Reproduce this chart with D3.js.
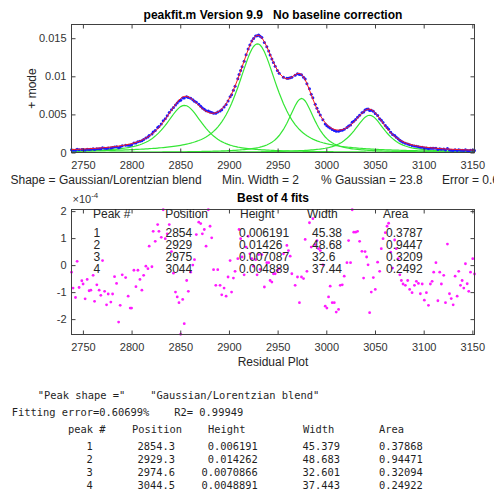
<!DOCTYPE html>
<html>
<head>
<meta charset="utf-8">
<script src="https://cdn.jsdelivr.net/npm/d3@7"></script>
<style>
  body { margin: 0; background: #fff; }
  svg { display: block; }
  text.pre { white-space: pre; }
</style>
</head>
<body>
<div id="chart"></div>
<script>
// fitted peak table (peakfit output)
const peakNum = [1, 2, 3, 4];
const peakPos = [2854.3, 2929.3, 2974.6, 3044.46];
const peakHeight = [0.006191, 0.014262, 0.0070866, 0.0048891];
const peakWidth = [45.379, 48.683, 32.601, 37.443];
const peakArea = [0.37868, 0.94471, 0.32094, 0.24922];
const pctGaussian = 23.8;
const minWidth = 2;
const fitError = 0.60699;
const r2 = 0.99949;

// residuals: [x, residual * 1e4]
const residuals = [
  [2738.3, -0.26], [2739.9, -0.85], [2742.4, -1.20], [2744.1, 0.14], [2746.1, -0.83], [2748.9, -0.58],
  [2750.2, -0.70], [2752.3, -1.25], [2754.4, -0.53], [2756.4, -0.95], [2758.2, -0.93], [2760.5, -0.38],
  [2762.0, -1.34], [2764.3, -0.73], [2766.7, -0.93], [2768.4, -1.12], [2770.2, 0.17], [2772.3, -0.97],
  [2774.3, -1.47], [2776.0, -1.07], [2778.7, -1.37], [2780.5, -1.07], [2782.5, -0.43], [2784.6, -0.68],
  [2786.7, -2.11], [2788.3, -1.49], [2790.4, -0.36], [2793.9, -0.46], [2796.5, -1.15], [2798.6, -1.59],
  [2800.0, -1.59], [2802.4, -0.19], [2804.5, -0.80], [2806.5, -0.19], [2808.6, -0.53], [2810.6, -0.93],
  [2812.4, -0.38], [2814.7, -0.04], [2816.8, -0.13], [2818.1, 0.70], [2820.9, -0.06], [2822.2, 1.25],
  [2824.3, 0.88], [2826.8, 1.50], [2828.1, 1.25], [2830.5, 1.03], [2832.5, 2.05], [2834.6, 0.98],
  [2836.6, 1.16], [2838.7, 1.50], [2841.0, 0.50], [2843.0, -0.30], [2845.1, -1.00], [2846.9, -1.18],
  [2848.7, -1.39], [2850.4, -2.56], [2852.5, -1.27], [2854.1, -2.17], [2856.6, -0.57], [2858.3, -0.97],
  [2860.7, -0.26], [2862.9, 0.00], [2864.6, 0.20], [2866.5, 1.13], [2869.0, 1.59], [2871.0, 1.54],
  [2872.7, 1.16], [2874.7, 1.32], [2876.5, 0.70], [2878.8, 2.05], [2880.6, 1.44], [2882.3, 1.01],
  [2884.2, -0.17], [2886.5, -0.75], [2888.5, -0.17], [2890.9, -0.75], [2892.6, -1.10], [2895.0, -0.85],
  [2897.1, -1.15], [2899.1, -0.44], [2901.2, 0.17], [2902.7, -1.00], [2904.6, -0.48], [2906.3, -0.23],
  [2909.1, 0.24], [2910.4, 1.32], [2912.0, 0.98], [2913.5, 0.30], [2915.6, -0.36], [2917.6, 0.67],
  [2919.7, 1.07], [2921.5, 0.42], [2923.5, 0.24], [2925.3, -0.04], [2927.4, 0.20], [2928.9, -0.36],
  [2930.5, 0.39], [2932.0, -0.16], [2933.8, 0.39], [2936.4, -0.81], [2938.9, 0.09], [2940.8, 0.09],
  [2942.3, -0.57], [2944.1, -0.63], [2945.7, -0.32], [2947.5, -0.32], [2949.8, -0.20], [2951.6, -0.13],
  [2956.0, 0.42], [2959.5, 0.73], [2961.1, 0.54], [2962.9, 0.33], [2964.6, -0.32], [2968.0, -0.75],
  [2970.4, -0.44], [2972.4, -1.39], [2974.5, -0.44], [2976.6, -0.50], [2978.3, 0.95], [2980.1, -0.23],
  [2982.7, 1.57], [2984.5, 0.67], [2986.2, 1.72], [2988.6, 0.76], [2990.4, 0.91], [2992.0, 0.61],
  [2993.8, 0.54], [2996.5, 0.01], [2998.9, -1.52], [3000.6, -1.59], [3002.3, -1.18], [3004.0, -0.78],
  [3006.1, -1.39], [3008.2, -1.39], [3010.2, -1.74], [3012.6, -1.64], [3014.3, -0.75], [3016.4, -0.73],
  [3018.4, -0.41], [3021.2, 0.09], [3022.9, 0.91], [3024.9, 0.09], [3026.6, 2.05], [3028.2, 1.22],
  [3030.1, 1.22], [3032.1, 1.25], [3034.2, 0.88], [3036.6, 0.51], [3038.3, -0.48], [3039.8, 0.50],
  [3041.4, 0.30], [3042.9, 0.01], [3044.5, -1.76], [3046.2, -1.00], [3048.3, -0.46], [3050.3, -0.90],
  [3052.7, 0.11], [3054.8, -0.23], [3056.5, 0.61], [3058.3, 0.98], [3060.6, 1.20], [3062.4, 1.44],
  [3064.0, 1.55], [3066.1, 0.48], [3068.1, -0.11], [3070.2, 0.93], [3071.9, 0.61], [3073.8, 0.24],
  [3075.5, -0.36], [3077.1, -0.57], [3078.8, -0.70], [3081.2, -0.75], [3083.6, -0.57], [3085.6, -0.90],
  [3088.1, -1.02], [3090.5, -0.75], [3092.5, -0.60], [3094.6, -0.68], [3096.6, -1.06], [3098.5, -0.70],
  [3100.7, -1.30], [3102.8, -1.02], [3104.9, -1.49], [3106.9, -0.70], [3108.7, -0.60], [3110.3, -0.26],
  [3112.6, 0.09], [3114.6, -1.32], [3116.5, -0.26], [3118.2, -0.70], [3120.6, -0.38], [3122.4, -1.39],
  [3124.4, 0.78], [3126.5, -1.06], [3128.3, -1.24], [3130.3, -1.47], [3132.3, -0.41], [3134.4, -1.15],
  [3136.0, -0.23], [3137.8, -0.75], [3139.5, -0.57], [3141.2, -0.85], [3142.9, 0.05], [3144.7, -0.69],
  [3146.3, -0.97], [3148.1, -0.26], [3150.4, 0.24], [3152.2, -0.33]
];

// axis settings
const xDomain = [2738.3, 3152.2];
const topYDomain = [0, 0.0168];
const resYDomain = [-2.57, 2.06];
const xTicks = [2750, 2800, 2850, 2900, 2950, 3000, 3050, 3100, 3150];
const topYTicks = [0, 0.005, 0.01, 0.015];
const resYTicks = [-2, -1, 0, 1, 2];

const W = 494, H = 490;
const sansFont = '"Liberation Sans", Arial, Helvetica, sans-serif';
const monoFont = '"DejaVu Sans Mono", "Liberation Mono", monospace';

const svg = d3.select('#chart').append('svg')
  .attr('width', W).attr('height', H)
  .style('font-family', sansFont);

const topBox = {left: 71.5, right: 474.5, top: 24.5, bottom: 152.5};
const resBox = {left: 71.5, right: 474.5, top: 209.5, bottom: 334.5};

const x = d3.scaleLinear().domain(xDomain).range([topBox.left, topBox.right]);
const yTop = d3.scaleLinear().domain(topYDomain).range([topBox.bottom, topBox.top]);
const yRes = d3.scaleLinear().domain(resYDomain).range([resBox.bottom, resBox.top]);

// Gaussian/Lorentzian blend, peakfit shape 13
const glBlend = (xv, pos, wid) => {
  const g = Math.exp(-Math.pow((xv - pos) / (0.60056120439323 * wid), 2));
  const l = 1 / (1 + Math.pow((xv - pos) / (0.5 * wid), 2));
  return (pctGaussian / 100) * g + (1 - pctGaussian / 100) * l;
};
const component = (k, xv) => peakHeight[k] * glBlend(xv, peakPos[k], peakWidth[k]);
const model = xv => d3.sum(peakNum, (n, k) => component(k, xv));

const xs = residuals.map(d => d[0]);

const drawAxes = (box, yScale, yTicks) => {
  const g = svg.append('g');
  g.append('g').attr('transform', `translate(0,${box.bottom})`)
    .call(d3.axisBottom(x).tickValues(xTicks).tickSizeInner(-4).tickSizeOuter(0).tickPadding(8.5).tickFormat(d3.format('d')));
  g.append('g').attr('transform', `translate(0,${box.top})`)
    .call(d3.axisTop(x).tickValues(xTicks).tickSizeInner(-4).tickSizeOuter(0).tickFormat(''));
  g.append('g').attr('transform', `translate(${box.left},0)`)
    .call(d3.axisLeft(yScale).tickValues(yTicks).tickSizeInner(-4).tickSizeOuter(0).tickPadding(5).tickFormat(d => String(d)));
  g.append('g').attr('transform', `translate(${box.right},0)`)
    .call(d3.axisRight(yScale).tickValues(yTicks).tickSizeInner(-4).tickSizeOuter(0).tickFormat(''));
  g.selectAll('.domain').remove();
  g.selectAll('.tick line').attr('stroke', '#404040');
  g.selectAll('g').attr('font-family', sansFont).attr('font-size', 11);
  g.selectAll('.tick text').attr('fill', '#333');
  g.append('rect')
    .attr('x', box.left).attr('y', box.top)
    .attr('width', box.right - box.left).attr('height', box.bottom - box.top)
    .attr('fill', 'none').attr('stroke', '#404040');
};

// ---- top plot: data, fit, components ----
const line = d3.line().x(d => x(d[0])).y(d => yTop(d[1]));

const compG = svg.append('g');
peakNum.forEach((n, k) => {
  compG.append('path')
    .datum(xs.map(xv => [xv, component(k, xv)]))
    .attr('d', line)
    .attr('fill', 'none')
    .attr('stroke', '#35e635')
    .attr('stroke-width', 1.2);
});

svg.append('g').selectAll('circle')
  .data(residuals)
  .join('circle')
  .attr('cx', d => x(d[0]))
  .attr('cy', d => yTop(model(d[0]) + d[1] * 1e-4))
  .attr('r', 1.5)
  .attr('fill', '#1a1aff');

svg.append('path')
  .datum(xs.map(xv => [xv, model(xv)]))
  .attr('d', line)
  .attr('fill', 'none')
  .attr('stroke', '#ff1a1a')
  .attr('stroke-width', 1);

drawAxes(topBox, yTop, topYTicks);

svg.append('text').attr('class', 'pre')
  .attr('x', (topBox.left + topBox.right) / 2).attr('y', 19)
  .attr('text-anchor', 'middle').attr('font-weight', 'bold').attr('font-size', 12)
  .text('peakfit.m Version 9.9   No baseline correction');

svg.append('text')
  .attr('transform', `translate(36,${(topBox.top + topBox.bottom) / 2}) rotate(-90)`)
  .attr('text-anchor', 'middle').attr('font-size', 12).attr('fill', '#262626')
  .text('+ mode');

// info line under the top plot
const infoY = 183.5;
[
  [10.5, 'Shape = Gaussian/Lorentzian blend'],
  [222, `Min. Width = ${minWidth}`],
  [321, `% Gaussian = ${pctGaussian}`],
  [442, `Error = ${fitError}%`]
].forEach(([tx, t]) => {
  svg.append('text').attr('x', tx).attr('y', infoY)
    .attr('font-size', 12).attr('fill', '#262626').text(t);
});

// ---- residual plot ----
svg.append('g').selectAll('circle')
  .data(residuals)
  .join('circle')
  .attr('cx', d => x(d[0]))
  .attr('cy', d => yRes(d[1]))
  .attr('r', 1.4)
  .attr('fill', '#ff1aff');

drawAxes(resBox, yRes, resYTicks);

svg.append('text')
  .attr('x', (resBox.left + resBox.right) / 2).attr('y', 201.5)
  .attr('text-anchor', 'middle').attr('font-weight', 'bold').attr('font-size', 12)
  .text(`Best of ${peakNum.length} fits`);

const expo = svg.append('text').attr('x', 72.5).attr('y', 203).attr('font-size', 11).attr('fill', '#333');
expo.append('tspan').text('\u00d710');
expo.append('tspan').attr('font-size', 8).attr('dy', -5).text('-4');

svg.append('text')
  .attr('x', (resBox.left + resBox.right) / 2).attr('y', 366)
  .attr('text-anchor', 'middle').attr('font-size', 12).attr('fill', '#262626')
  .text('Residual Plot');

// table inside the residual plot
const fmt4 = d3.format('.4~g');
const tbl = svg.append('g').attr('font-size', 12).attr('fill', '#262626');
[[93, 'Peak #'], [165.3, 'Position'], [240, 'Height'], [307, 'Width'], [383, 'Area']]
  .forEach(([tx, t]) => tbl.append('text').attr('x', tx).attr('y', 218.3).text(t));
peakNum.forEach((n, k) => {
  const ty = 236.5 + k * 12.3;
  [[93.5, String(n)], [165.5, fmt4(peakPos[k])], [239, fmt4(peakHeight[k])],
   [312, fmt4(peakWidth[k])], [386, fmt4(peakArea[k])]]
    .forEach(([tx, t]) => tbl.append('text').attr('x', tx).attr('y', ty).text(t));
});

// ---- console output below the figure ----
const fmt5 = d3.format('.5~g');
const con = svg.append('g').attr('font-family', monoFont).attr('font-size', 10.4).attr('fill', '#1f1f1f');
con.append('text').attr('class', 'pre').attr('x', 37.7).attr('y', 399)
  .text('"Peak shape ="    "Gaussian/Lorentzian blend"');
con.append('text').attr('class', 'pre').attr('x', 11.7).attr('y', 415.5)
  .text(`Fitting error=${fitError}%    R2= ${r2}`);
[[68, 'peak #'], [132, 'Position'], [208, 'Height'], [303, 'Width'], [379, 'Area']]
  .forEach(([tx, t]) => con.append('text').attr('x', tx).attr('y', 432.5).text(t));
peakNum.forEach((n, k) => {
  const ty = 449.5 + k * 13.3;
  [[92.7, String(n)], [175, fmt5(peakPos[k])], [257.7, fmt5(peakHeight[k])],
   [340, fmt5(peakWidth[k])], [422.7, fmt5(peakArea[k])]]
    .forEach(([tx, t]) => con.append('text').attr('x', tx).attr('y', ty)
      .attr('text-anchor', 'end').text(t));
});
</script>
</body>
</html>
